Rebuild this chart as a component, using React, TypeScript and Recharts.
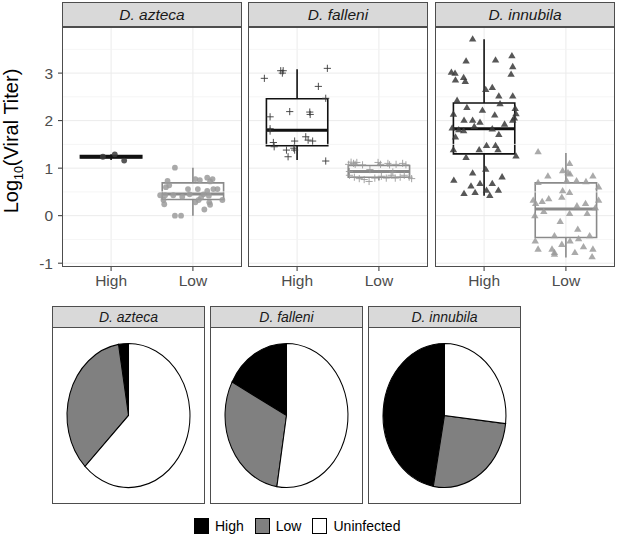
import React from 'react';
import {
  ComposedChart, Scatter, XAxis, YAxis, CartesianGrid, ReferenceArea, ReferenceLine,
  PieChart, Pie, Cell,
} from 'recharts';

const FONT = '"Liberation Sans", Arial, Helvetica, sans-serif';

// ---------- data ----------
const speciesNames = ['D. azteca', 'D. falleni', 'D. innubila'];
const categories = ['High', 'Low'];
const catPos = [1, 2];
const yMajorTicks = [-1, 0, 1, 2, 3];
const yMinorBreaks = [-0.5, 0.5, 1.5, 2.5, 3.5];
const pieCategories = ['High', 'Low', 'Uninfected'];

// box stats: [min, q1, median, q3, max]
const aztecaBoxHigh = [1.17, 1.215, 1.24, 1.265, 1.29];
const aztecaBoxLow = [0.0, 0.34, 0.455, 0.69, 1.01];
const falleniBoxHigh = [1.17, 1.47, 1.8, 2.46, 3.08];
const falleniBoxLow = [0.74, 0.81, 0.93, 1.055, 1.12];
const innubilaBoxHigh = [0.42, 1.3, 1.83, 2.37, 3.71];
const innubilaBoxLow = [-0.88, -0.46, 0.14, 0.69, 1.32];

// jittered points: [x offset from category, log10 titer]
const aztecaHighPts = [[0.045, 1.29], [0.16, 1.16], [-0.1, 1.24]];
const aztecaLowPts = [
  [-0.22, 1.01], [-0.31, 0.73], [-0.29, 0.64], [-0.33, 0.6], [0.03, 0.77], [0.085, 0.75],
  [0.175, 0.8], [0.24, 0.77], [0.21, 0.72], [-0.06, 0.56], [0.06, 0.56], [0.175, 0.52],
  [0.25, 0.56], [0.3, 0.56], [-0.4, 0.43], [-0.34, 0.43], [-0.24, 0.43], [-0.04, 0.45],
  [0.13, 0.45], [0.195, 0.42], [-0.36, 0.33], [0.03, 0.28], [0.07, 0.33], [0.2, 0.28],
  [0.21, 0.23], [0.36, 0.33], [0.14, 0.13], [-0.35, 0.24], [-0.22, 0.0], [-0.145, 0.0],
  [0.1, 0.38], [-0.13, 0.4],
];
const falleniHighPts = [
  [-0.4, 2.89], [-0.2, 3.05], [-0.18, 3.0], [-0.17, 3.05], [0.37, 3.1], [0.26, 2.72],
  [0.35, 2.47], [-0.09, 2.19], [0.155, 2.18], [0.16, 2.13], [-0.33, 2.08], [-0.33, 1.83],
  [-0.33, 1.78], [-0.29, 1.54], [-0.28, 1.45], [-0.03, 1.57], [0.106, 1.66], [0.135, 1.59],
  [0.19, 1.57], [-0.13, 1.38], [-0.04, 1.42], [-0.03, 1.38], [-0.11, 1.24], [0.35, 1.15],
];
const falleniLowPts = [
  [-0.37, 1.08], [-0.34, 1.125], [-0.31, 1.1], [-0.29, 1.08], [-0.27, 1.12], [-0.2, 1.07],
  [-0.01, 1.12], [0.02, 1.08], [0.11, 1.1], [0.13, 1.07], [0.21, 1.08], [0.29, 1.1],
  [0.33, 1.07], [-0.36, 0.93], [0.17, 0.92], [-0.11, 0.97], [-0.36, 0.85], [-0.3, 0.81],
  [-0.24, 0.78], [-0.18, 0.76], [-0.12, 0.72], [-0.05, 0.79], [0.03, 0.83], [0.09, 0.79],
  [0.15, 0.85], [0.2, 0.79], [0.26, 0.81], [0.31, 0.85], [0.37, 0.81], [0.4, 0.78],
];
const innubilaHighPts = [
  [-0.14, 3.72], [-0.22, 3.26], [0.14, 3.28], [0.34, 3.37], [0.35, 3.14], [0.33, 2.98],
  [-0.4, 3.02], [-0.355, 3.0], [-0.35, 2.86], [-0.25, 2.91], [-0.23, 2.83], [0.02, 2.66],
  [0.1, 2.7], [0.18, 2.52], [0.195, 2.36], [0.35, 2.52], [-0.33, 2.43], [-0.21, 2.28],
  [-0.02, 2.22], [0.13, 2.12], [0.38, 2.26], [0.39, 2.15], [0.37, 2.06], [0.35, 2.01],
  [-0.245, 2.01], [-0.14, 2.01], [-0.05, 1.97], [0.25, 1.93], [-0.375, 2.14], [-0.39, 1.85],
  [-0.31, 1.81], [-0.25, 1.79], [-0.12, 1.88], [0.1, 1.83], [-0.35, 1.66], [0.18, 1.71],
  [-0.375, 1.39], [-0.22, 1.23], [-0.06, 1.39], [0.03, 1.48], [0.14, 1.48], [0.17, 1.39],
  [0.39, 1.26], [0.02, 0.98], [-0.14, 0.9], [0.22, 0.82], [-0.37, 0.75], [-0.05, 0.68],
  [-0.16, 0.63], [0.1, 0.68], [0.175, 0.54], [-0.245, 0.47], [-0.11, 0.49], [0.03, 0.54],
  [0.07, 0.43],
];
const innubilaLowPts = [
  [-0.34, 1.35], [0.045, 1.1], [-0.04, 0.95], [0.025, 0.91], [0.05, 0.88], [-0.22, 0.84],
  [0.33, 0.84], [-0.34, 0.7], [0.01, 0.74], [0.13, 0.74], [0.245, 0.72], [0.4, 0.61],
  [-0.04, 0.53], [0.045, 0.49], [-0.05, 0.39], [-0.4, 0.33], [-0.29, 0.3], [-0.21, 0.36],
  [0.4, 0.33], [0.24, 0.26], [-0.37, 0.26], [0.135, 0.21], [-0.27, 0.09], [-0.38, 0.0],
  [0.045, 0.05], [0.26, 0.05], [0.36, 0.17], [-0.07, -0.12], [0.145, -0.28], [-0.375, -0.53],
  [-0.14, -0.42], [0.05, -0.53], [0.155, -0.48], [0.29, -0.42], [-0.05, -0.6], [-0.34, -0.7],
  [-0.17, -0.7], [-0.14, -0.77], [0.215, -0.65], [0.33, -0.7], [0.11, -0.77], [0.32, -0.86],
  [-0.14, -0.81],
];

// pie shares (%) in order High, Low, Uninfected
const aztecaPie = [2.6, 34.9, 62.5];
const falleniPie = [17.3, 30.2, 52.5];
const innubilaPie = [47.1, 26.1, 26.8];

// ---------- styles ----------
const HIGH_PT = '#3a3a3a';
const LOW_PT = '#9b9b9b';
const HIGH_BOX = '#111111';
const LOW_BOX = '#8a8a8a';
const PIE_COLORS = ['#000000', '#808080', '#ffffff'];
const BORDER = '1.5px solid #4d4d4d';
const STRIP_BG = '#d9d9d9';

const toPts = (arr, pos) => arr.map(([dx, y]) => ({ x: pos + dx, y }));

const makeShape = (kind, color) => (props) => {
  const { cx, cy } = props;
  if (cx == null || cy == null) return null;
  if (kind === 'circle') {
    return <circle cx={cx} cy={cy} r={2.9} fill={color} fillOpacity={0.85} />;
  }
  if (kind === 'plus') {
    return (
      <g stroke={color} strokeWidth={1} strokeOpacity={0.9}>
        <line x1={cx - 3.6} y1={cy} x2={cx + 3.6} y2={cy} />
        <line x1={cx} y1={cy - 3.6} x2={cx} y2={cy + 3.6} />
      </g>
    );
  }
  return (
    <polygon
      points={`${cx},${cy - 3.6} ${cx - 3.7},${cy + 2.7} ${cx + 3.7},${cy + 2.7}`}
      fill={color}
      fillOpacity={0.85}
    />
  );
};

const facetData = [
  { name: speciesNames[0], high: aztecaHighPts, low: aztecaLowPts, boxes: [aztecaBoxHigh, aztecaBoxLow], shape: 'circle', left: 62, showY: true },
  { name: speciesNames[1], high: falleniHighPts, low: falleniLowPts, boxes: [falleniBoxHigh, falleniBoxLow], shape: 'plus', left: 248, showY: false },
  { name: speciesNames[2], high: innubilaHighPts, low: innubilaLowPts, boxes: [innubilaBoxHigh, innubilaBoxLow], shape: 'tri', left: 435, showY: false },
];

const pieData = [
  { name: speciesNames[0], vals: aztecaPie, left: 52 },
  { name: speciesNames[1], vals: falleniPie, left: 210 },
  { name: speciesNames[2], vals: innubilaPie, left: 368 },
];

const PANEL_W = 180;
const PANEL_TOP = 27;
const PANEL_H = 240;
const YAXIS_W = 62;

function renderBox(stats, pos, color, key) {
  const [mn, q1, med, q3, mx] = stats;
  const hw = 0.375;
  return [
    <ReferenceLine key={key + 'wu'} segment={[{ x: pos, y: q3 }, { x: pos, y: mx }]} stroke={color} strokeWidth={1.6} ifOverflow="extendDomain" />,
    <ReferenceLine key={key + 'wl'} segment={[{ x: pos, y: mn }, { x: pos, y: q1 }]} stroke={color} strokeWidth={1.6} ifOverflow="extendDomain" />,
    <ReferenceArea key={key + 'b'} x1={pos - hw} x2={pos + hw} y1={q1} y2={q3} fill="none" fillOpacity={0} stroke={color} strokeWidth={1.6} strokeOpacity={1} ifOverflow="extendDomain" />,
    <ReferenceLine key={key + 'm'} segment={[{ x: pos - hw, y: med }, { x: pos + hw, y: med }]} stroke={color} strokeWidth={3} ifOverflow="extendDomain" />,
  ];
}

function Facet({ f }) {
  const chartLeft = f.showY ? f.left - YAXIS_W : f.left;
  const chartW = f.showY ? PANEL_W + YAXIS_W : PANEL_W;
  return (
    <>
      <div style={{
        position: 'absolute', left: f.left, top: 2, width: PANEL_W, height: 25, boxSizing: 'border-box',
        background: STRIP_BG, border: BORDER, display: 'flex', alignItems: 'center', justifyContent: 'center',
        fontStyle: 'italic', fontSize: 15.5, color: '#1a1a1a',
      }}>{f.name}</div>
      <div style={{ position: 'absolute', left: chartLeft, top: PANEL_TOP }}>
        <ComposedChart width={chartW} height={PANEL_H + 35} margin={{ top: 0, right: 0, bottom: 0, left: 0 }}>
          <CartesianGrid stroke="#ebebeb" strokeWidth={1} horizontalValues={yMajorTicks} verticalValues={catPos} />
          {yMinorBreaks.map((v) => (
            <ReferenceLine key={'mn' + v} y={v} stroke="#f2f2f2" strokeWidth={0.8} />
          ))}
          <XAxis
            type="number" dataKey="x" domain={[0.4, 2.6]} ticks={catPos} allowDataOverflow
            tickFormatter={(v) => categories[catPos.indexOf(v)] ?? ''}
            axisLine={false} tickLine={{ stroke: '#333333' }} tickSize={4} tickMargin={4} height={35}
            tick={{ fill: '#4d4d4d', fontSize: 15.5, fontFamily: FONT }} interval={0}
          />
          <YAxis
            type="number" dataKey="y" domain={[-1.08, 3.97]} ticks={yMajorTicks} allowDataOverflow
            hide={!f.showY} width={YAXIS_W} axisLine={false} tickLine={{ stroke: '#333333' }} tickSize={4} tickMargin={5}
            tick={{ fill: '#4d4d4d', fontSize: 15.5, fontFamily: FONT }} interval={0}
          />
          {renderBox(f.boxes[0], catPos[0], HIGH_BOX, 'h')}
          {renderBox(f.boxes[1], catPos[1], LOW_BOX, 'l')}
          <Scatter data={toPts(f.high, catPos[0])} shape={makeShape(f.shape, HIGH_PT)} isAnimationActive={false} />
          <Scatter data={toPts(f.low, catPos[1])} shape={makeShape(f.shape, LOW_PT)} isAnimationActive={false} />
        </ComposedChart>
      </div>
      <div style={{
        position: 'absolute', left: f.left, top: PANEL_TOP, width: PANEL_W, height: PANEL_H,
        boxSizing: 'border-box', border: BORDER, pointerEvents: 'none',
      }} />
    </>
  );
}

const PIE_PANEL_W = 153;
const PIE_PANEL_H = 177;

function PieFacet({ p }) {
  const data = pieCategories.map((c, i) => ({ name: c, value: p.vals[i] }));
  return (
    <>
      <div style={{
        position: 'absolute', left: p.left, top: 306, width: PIE_PANEL_W, height: 22, boxSizing: 'border-box',
        background: STRIP_BG, border: BORDER, display: 'flex', alignItems: 'center', justifyContent: 'center',
        fontStyle: 'italic', fontSize: 14, color: '#1a1a1a',
      }}>{p.name}</div>
      <div style={{
        position: 'absolute', left: p.left, top: 327, width: PIE_PANEL_W, height: PIE_PANEL_H,
        transform: 'scaleX(0.854)', transformOrigin: '50% 50%',
      }}>
        <PieChart width={PIE_PANEL_W} height={PIE_PANEL_H} margin={{ top: 0, right: 0, bottom: 0, left: 0 }}>
          <Pie
            data={data} dataKey="value" nameKey="name" cx="50%" cy="50%" outerRadius={72}
            startAngle={90} endAngle={450} stroke="#000" strokeWidth={1.2} isAnimationActive={false}
          >
            {data.map((d, i) => <Cell key={d.name} fill={PIE_COLORS[i]} stroke="#000" />)}
          </Pie>
        </PieChart>
      </div>
      <div style={{
        position: 'absolute', left: p.left, top: 327, width: PIE_PANEL_W, height: PIE_PANEL_H,
        boxSizing: 'border-box', border: BORDER, pointerEvents: 'none',
      }} />
    </>
  );
}

export default function App() {
  return (
    <div style={{
      position: 'absolute', left: 0, top: 0, width: 617, height: 537, background: '#fff',
      fontFamily: FONT, overflow: 'hidden',
    }}>
      <div style={{
        position: 'absolute', left: 12.5, top: 141, transform: 'translate(-50%, -50%) rotate(-90deg)',
        whiteSpace: 'nowrap', fontSize: 20, color: '#000',
      }}>
        Log<sub style={{ fontSize: '0.62em', verticalAlign: '-0.35em' }}>10</sub>(Viral Titer)
      </div>
      {facetData.map((f) => <Facet key={f.name} f={f} />)}
      {pieData.map((p) => <PieFacet key={p.name} p={p} />)}
      <div style={{
        position: 'absolute', left: 194, top: 517, height: 17, display: 'flex', alignItems: 'center',
        fontSize: 14, color: '#000',
      }}>
        {pieCategories.map((c, i) => (
          <div key={c} style={{ display: 'flex', alignItems: 'center', marginRight: 11 }}>
            <div style={{ width: 15, height: 16, boxSizing: 'border-box', border: '1px solid #000', background: PIE_COLORS[i] }} />
            <span style={{ marginLeft: 6 }}>{c}</span>
          </div>
        ))}
      </div>
    </div>
  );
}
